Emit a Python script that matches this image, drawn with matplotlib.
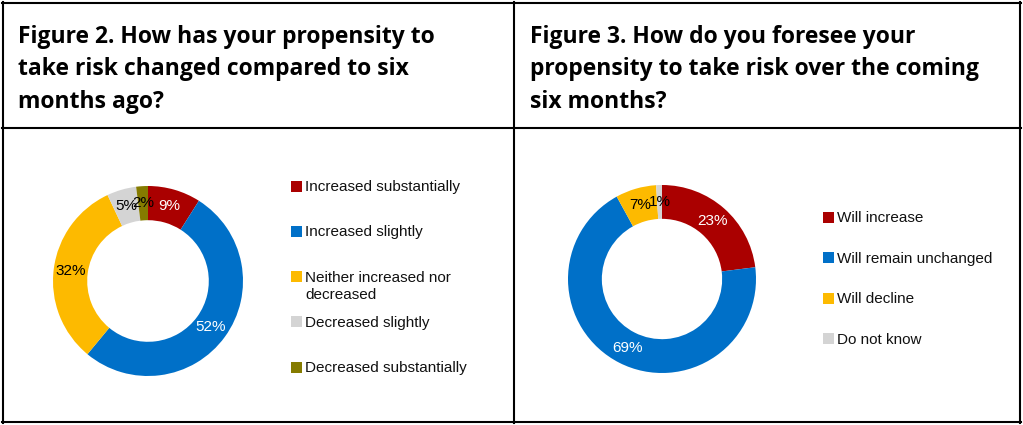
import matplotlib
matplotlib.use("Agg")
import numpy as np
import matplotlib.pyplot as plt
from matplotlib.lines import Line2D
from matplotlib.patches import Rectangle

W, H = 1023, 425

# Figure 2 data
fig2_title = "Figure 2. How has your propensity to\ntake risk changed compared to six\nmonths ago?"
fig2_labels = ["Increased substantially", "Increased slightly",
               "Neither increased nor\ndecreased", "Decreased slightly",
               "Decreased substantially"]
fig2_values = [9, 52, 32, 5, 2]
fig2_colors = ["#AA0000", "#0070C8", "#FDBA00", "#D4D4D4", "#857B00"]
fig2_text = ["white", "white", "black", "black", "black"]

# Figure 3 data
fig3_title = "Figure 3. How do you foresee your\npropensity to take risk over the coming\nsix months?"
fig3_labels = ["Will increase", "Will remain unchanged", "Will decline", "Do not know"]
fig3_values = [23, 69, 7, 1]
fig3_colors = ["#AA0000", "#0070C8", "#FDBA00", "#D4D4D4"]
fig3_text = ["white", "white", "black", "black"]

fig = plt.figure(figsize=(W / 100, H / 100), dpi=100)


def px(x, y):
    # pixel coords (top-left origin) -> figure fraction
    return x / W, 1 - y / H


def hline(x0, x1, y):
    a, b = px(x0, y)
    c, _ = px(x1, y)
    fig.add_artist(Line2D([a, c], [b, b], color="black", lw=1.5))


def vline(x, y0, y1):
    a, b = px(x, y0)
    _, d = px(x, y1)
    fig.add_artist(Line2D([a, a], [b, d], color="black", lw=1.5))


def donut(cx, cy, r, values, colors, txtcolors):
    ax = fig.add_axes([(cx - r) / W, (H - cy - r) / H, 2 * r / W, 2 * r / H])
    ax.pie(values, colors=colors, startangle=90, counterclock=False,
           radius=1, wedgeprops=dict(width=0.36, linewidth=0))
    total = sum(values)
    start = 90.0
    for v, c in zip(values, txtcolors):
        ang = np.deg2rad(start - v / total * 180)
        start -= v / total * 360
        ax.text(0.82 * np.cos(ang), 0.82 * np.sin(ang), f"{v}%", ha="center",
                va="center", color=c, fontsize=11, family="Liberation Sans")
    ax.set_xlim(-1, 1)
    ax.set_ylim(-1, 1)
    ax.set_aspect("equal")
    ax.axis("off")


def legend(x, y0, step, labels, colors):
    for i, (lab, col) in enumerate(zip(labels, colors)):
        y = y0 + i * step
        fx, fy = px(x, y + 5.5)
        fig.add_artist(Rectangle((fx, fy), 11 / W, 11 / H, transform=fig.transFigure,
                                 facecolor=col, edgecolor="none"))
        tx, ty = px(x + 14, y - 6)
        fig.text(tx, ty, lab, ha="left", va="top", fontsize=11,
                 family="Liberation Sans", color="#111111", linespacing=1.3)


# table borders
hline(2, 1021, 3)
hline(2, 1021, 422)
hline(2, 1021, 128)
vline(3, 2, 423)
vline(1020, 2, 423)
vline(514, 2, 423)

# titles
tx, ty = px(18, 25)
fig.text(tx, ty, fig2_title, ha="left", va="top", fontsize=16.5,
         family="Open Sans", weight="bold", linespacing=1.47)
tx, ty = px(530, 25)
fig.text(tx, ty, fig3_title, ha="left", va="top", fontsize=16.5,
         family="Open Sans", weight="bold", linespacing=1.47)

donut(148, 281, 95, fig2_values, fig2_colors, fig2_text)
donut(662, 279, 94, fig3_values, fig3_colors, fig3_text)

legend(291, 186, 45.3, fig2_labels, fig2_colors)
legend(823, 217, 40.6, fig3_labels, fig3_colors)

fig.savefig("out.png", dpi=100)
